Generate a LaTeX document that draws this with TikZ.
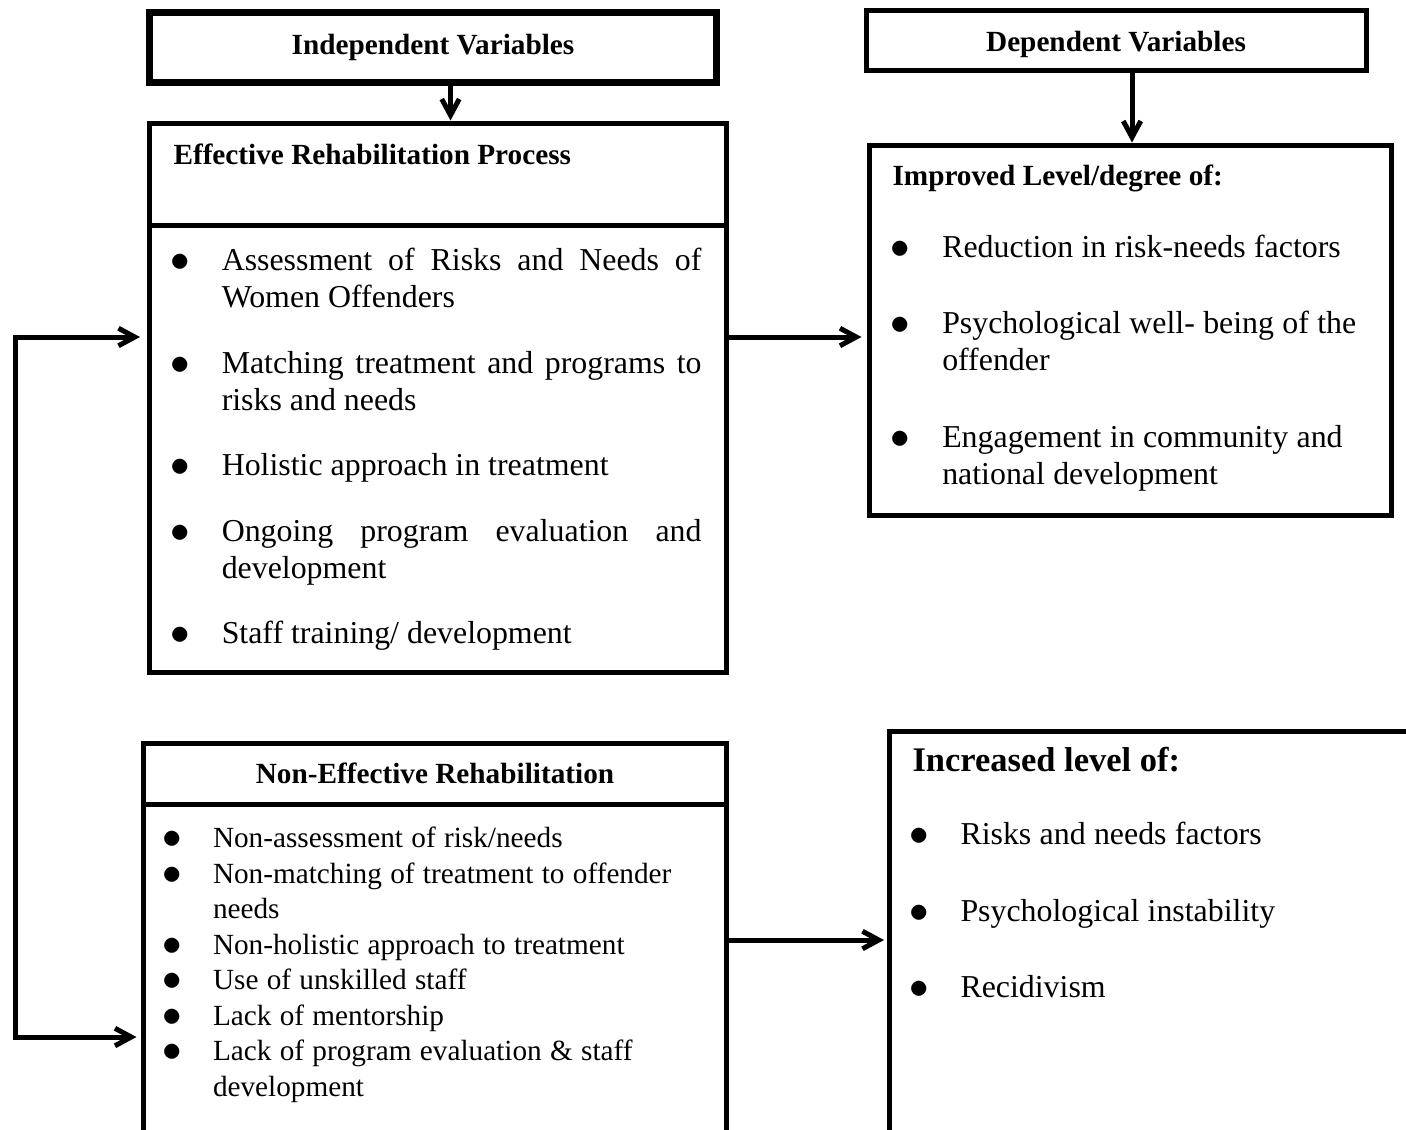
\documentclass[tikz,border=0pt]{standalone}
\usepackage{fontspec}
\usepackage{graphicx}
\setmainfont{Liberation Serif}
\usetikzlibrary{arrows.meta}

\newlength{\bhang}
\newcommand{\bitem}[1]{\hangindent=\bhang\hangafter=1\noindent\makebox[\bhang][l]{\raisebox{-0.5pt}{\scalebox{1.3}{$\bullet$}}}\strut#1\par}
\newcommand{\listfont}{\fontsize{12.75pt}{14.6pt}\selectfont}
\newcommand{\smallfont}{\fontsize{11.7pt}{14.2pt}\selectfont}

\begin{document}
\begin{tikzpicture}[x=0.4pt, y=-0.4pt, >={Straight Barb[length=6.5pt,width=7pt]},
		box/.style={draw, line width=2pt, inner sep=0pt},
		head/.style={inner sep=0pt, font=\fontsize{11.7pt}{14pt}\selectfont\bfseries},
		lst/.style={anchor=north west, inner sep=0pt},
		arr/.style={line width=2pt, ->}]
	\useasboundingbox (0,0) rectangle (1406,1129);
	\clip (0,0) rectangle (1406,1129);

	\node[box, head, line width=2.8pt, minimum width=226.4pt, minimum height=28pt] (indep) at (433,47) {Independent Variables};
	\node[box, minimum width=230.4pt, minimum height=40.8pt] (effhead) at (438,174) {};
	\node[box, minimum width=230.4pt, minimum height=178.8pt] (efflist) at (438,448.5) {};
	\node[head, anchor=base west] (efftitle) at (173,164) {Effective Rehabilitation Process};
	\node[lst, text width=212.4pt, align=justify] (effitems) at (170,244.5) {\listfont\setlength{\baselineskip}{14.8pt}\setlength{\bhang}{20.5pt}\setlength{\parskip}{11.4pt}%
		\bitem{Assessment of Risks and Needs of\linebreak Women Offenders}%
		\bitem{Matching treatment and programs to\linebreak risks and needs}%
		\bitem{Holistic approach in treatment}%
		\bitem{Ongoing program evaluation and\linebreak development}%
		\bitem{Staff training/ development}};

	\node[box, minimum width=200pt, minimum height=24pt] (dep) at (1116,40) {};
	\node[head] (deptitle) at (1116,44) {Dependent Variables};
	\node[box, minimum width=208.8pt, minimum height=148pt] (imp) at (1130,330) {};
	\node[head, anchor=base west] (imptitle) at (892,185) {Improved Level/degree of:};
	\node[lst, text width=196pt] (impitems) at (890,230.8) {\fontsize{12.75pt}{14.8pt}\selectfont\setlength{\bhang}{20.7pt}\setlength{\parskip}{15.8pt}%
		\bitem{Reduction in risk-needs factors}%
		\bitem{Psychological well- being of the\newline offender}%
		\bitem{Engagement in community and\newline national development}};

	\node[box, head, minimum width=232.8pt, minimum height=24.4pt] (nonhead) at (435,773.5) {Non-Effective Rehabilitation};
	\node[box, minimum width=232.8pt, minimum height=150.4pt] (nonlist) at (435,992) {};
	\node[lst, text width=215pt] (nonitems) at (162,822.2) {\smallfont\setlength{\bhang}{20.2pt}\setlength{\parskip}{0pt}%
		\bitem{Non-assessment of risk/needs}%
		\bitem{Non-matching of treatment to offender\newline needs}%
		\bitem{Non-holistic approach to treatment}%
		\bitem{Use of unskilled staff}%
		\bitem{Lack of mentorship}%
		\bitem{Lack of program evaluation \& staff\newline development}};

	\node[box, minimum width=220.4pt, minimum height=179.6pt] (inc) at (1164.5,955.5) {};
	\node[anchor=base west, inner sep=0pt, font=\fontsize{13.8pt}{16pt}\selectfont\bfseries] (inctitle) at (912,771) {Increased level of:};
	\node[lst, text width=191pt] (incitems) at (908.5,818.5) {\listfont\setlength{\bhang}{20.6pt}\setlength{\parskip}{16pt}%
		\bitem{Risks and needs factors}%
		\bitem{Psychological instability}%
		\bitem{Recidivism}};

	\coordinate (back) at (15,1037);
	\draw[arr] ([xshift=7pt]indep.south) -- ([xshift=7pt]indep.south |- effhead.north);
	\draw[arr] ([xshift=6.4pt]dep.south) -- ([xshift=6.4pt]dep.south |- imp.north);
	\draw[arr, shorten >=2pt] ([yshift=44.6pt]efflist.east) -- ([yshift=44.6pt]efflist.east -| imp.west);
	\draw[arr, shorten >=1pt] ([yshift=20.8pt]nonlist.east) -- ([yshift=20.8pt]nonlist.east -| inc.west);
	\draw[arr, <->, shorten <=3pt, shorten >=2pt] ([yshift=44.6pt]efflist.west) -| (back) -- (back -| nonlist.west);
\end{tikzpicture}
\end{document}
